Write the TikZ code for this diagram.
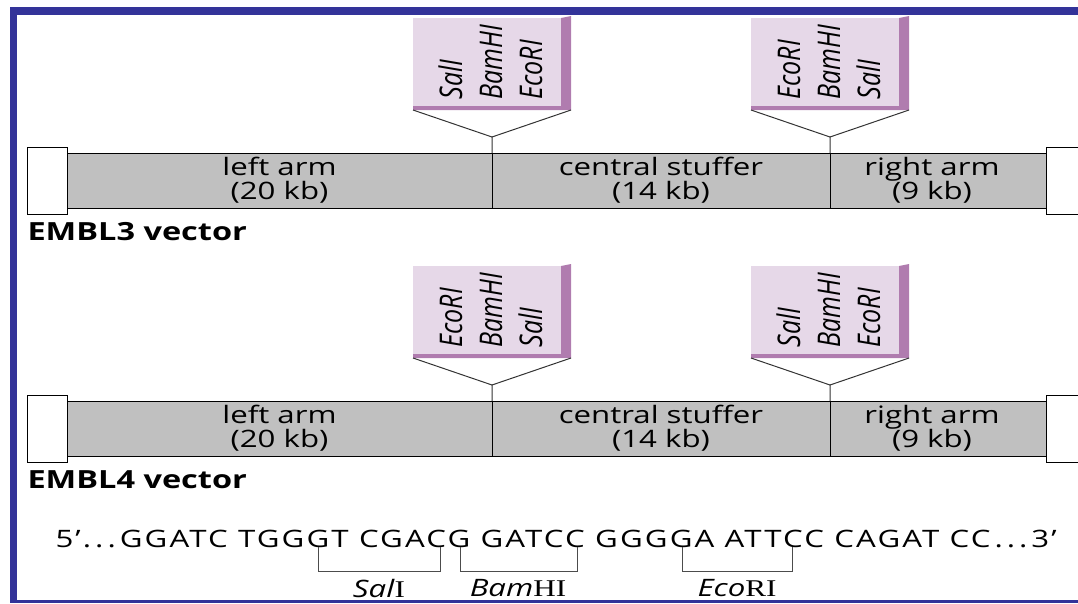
\documentclass[tikz,border=0pt]{standalone}
\usepackage{fontspec}
\setmainfont[FakeStretch=1.3]{Open Sans}
\newfontfamily\sitefont{Open Sans}
\newfontfamily\seqfont[FakeStretch=1.3,LetterSpace=9]{Open Sans}
\newfontfamily\romanfont[FakeStretch=1.3]{Liberation Serif}
\usetikzlibrary{positioning}

\definecolor{frameblue}{HTML}{333399}
\definecolor{bargray}{HTML}{C0C0C0}
\definecolor{siteface}{HTML}{E6D8E8}
\definecolor{sitebevel}{HTML}{B07CAF}

\newcommand{\sites}[3]{\rotatebox{90}{\scalebox{1}[1.25]{\sitefont\itshape\fontsize{25}{32}\selectfont
  \begin{tabular}{@{}l@{}}#1\\#2\\#3\end{tabular}}}\hspace*{-14pt}}
\newcommand{\bevel}[1]{\fill[sitebevel] (#1.north east) -- ++(10,-2) -- ([shift={(10pt,-4pt)}]#1.south east)
  -- ([yshift=-4pt]#1.south west) -- (#1.south west) -- (#1.south east) -- cycle;}

\begin{document}
\begin{tikzpicture}[x=1pt,y=-1pt,node distance=0pt,line width=1pt]
  \tikzstyle{segment} = [draw,fill=bargray,outer sep=0pt,inner sep=0pt,minimum height=55pt,align=center,font=\fontsize{24}{24}\selectfont]
  \tikzstyle{arm end} = [draw,fill=white,outer sep=0pt,minimum width=40pt,minimum height=67pt]
  \tikzstyle{site box} = [fill=siteface,outer sep=0pt,inner sep=0pt,minimum width=148pt,minimum height=88pt]
  \tikzstyle{vector name} = [inner sep=0pt,font=\bfseries\fontsize{25}{26}\selectfont]
  \tikzstyle{spoke} = [draw=black!80]
  \tikzstyle{site mark} = [draw=black!70]
  \tikzstyle{enzyme} = [inner sep=0pt,font=\fontsize{24}{26}\selectfont]
  \tikzstyle{dna} = [inner sep=0pt,font=\seqfont\fontsize{24}{26}\selectfont]

  \useasboundingbox (0,0) rectangle (1078,603);
  % frame
  \fill[frameblue] (10,7) rectangle (1078,15);
  \fill[frameblue] (10,7) rectangle (17,603);
  \fill[frameblue] (10,600) rectangle (1078,603);

  % EMBL3
  \node[segment,minimum width=425pt] (left3) at (279.5,180.5) {left arm\\(20 kb)};
  \node[segment,minimum width=338pt,right=of left3] (stuff3) {central stuffer\\(14 kb)};
  \node[segment,minimum width=216pt,right=of stuff3] (right3) {right arm\hspace*{12pt}\\(9 kb)\hspace*{12pt}};
  \node[arm end,left=of left3] (lend3) {};
  \node[arm end,right=of right3] (rend3) {};
  \node[vector name,below right=8pt and 0pt of lend3.south west] (name3) {EMBL3 vector};
  \coordinate[above=16pt of left3.north east] (tip3a);
  \coordinate[above=16pt of stuff3.north east] (tip3b);
  \node[site box,above=31pt of tip3a,xshift=-5pt] (site3a) {\sites{SalI}{BamHI}{EcoRI}};
  \node[site box,above=31pt of tip3b,xshift=-5pt] (site3b) {\sites{EcoRI}{BamHI}{SalI}};
  \bevel{site3a}
  \bevel{site3b}
  \draw[spoke] (site3a.south west) ++(0,4) -- (tip3a) -- (left3.north east);
  \draw[spoke] ([shift={(10pt,-4pt)}]site3a.south east) -- (tip3a);
  \draw[spoke] (site3b.south west) ++(0,4) -- (tip3b) -- (stuff3.north east);
  \draw[spoke] ([shift={(10pt,-4pt)}]site3b.south east) -- (tip3b);

  % EMBL4
  \node[segment,minimum width=425pt] (left4) at (279.5,428.5) {left arm\\(20 kb)};
  \node[segment,minimum width=338pt,right=of left4] (stuff4) {central stuffer\\(14 kb)};
  \node[segment,minimum width=216pt,right=of stuff4] (right4) {right arm\hspace*{12pt}\\(9 kb)\hspace*{12pt}};
  \node[arm end,left=of left4] (lend4) {};
  \node[arm end,right=of right4] (rend4) {};
  \node[vector name,below right=8pt and 0pt of lend4.south west] (name4) {EMBL4 vector};
  \coordinate[above=16pt of left4.north east] (tip4a);
  \coordinate[above=16pt of stuff4.north east] (tip4b);
  \node[site box,above=31pt of tip4a,xshift=-5pt] (site4a) {\sites{EcoRI}{BamHI}{SalI}};
  \node[site box,above=31pt of tip4b,xshift=-5pt] (site4b) {\sites{SalI}{BamHI}{EcoRI}};
  \bevel{site4a}
  \bevel{site4b}
  \draw[spoke] (site4a.south west) ++(0,4) -- (tip4a) -- (left4.north east);
  \draw[spoke] ([shift={(10pt,-4pt)}]site4a.south east) -- (tip4a);
  \draw[spoke] (site4b.south west) ++(0,4) -- (tip4b) -- (stuff4.north east);
  \draw[spoke] ([shift={(10pt,-4pt)}]site4b.south east) -- (tip4b);

  % polylinker sequence
  \node[dna,anchor=base west] (seq) at (55,547) {5’.\,.\,.\,GGATC TGGGT CGACG GATCC GGGGA ATTCC CAGAT CC\,.\,.\,.\,3’};
  \draw[site mark] (318,547) |- (440,571) -- (440,547);
  \draw[site mark] (460,547) |- (577,571) -- (577,547);
  \draw[site mark] (682,547) |- (792,571) -- (792,547);
  \node[enzyme] (sal) at (379,588) {\textit{Sal}\romanfont I};
  \node[enzyme] (bam) at (518,588) {\textit{Bam}\romanfont HI};
  \node[enzyme] (eco) at (737,588) {\textit{Eco}\romanfont RI};
\end{tikzpicture}
\end{document}
